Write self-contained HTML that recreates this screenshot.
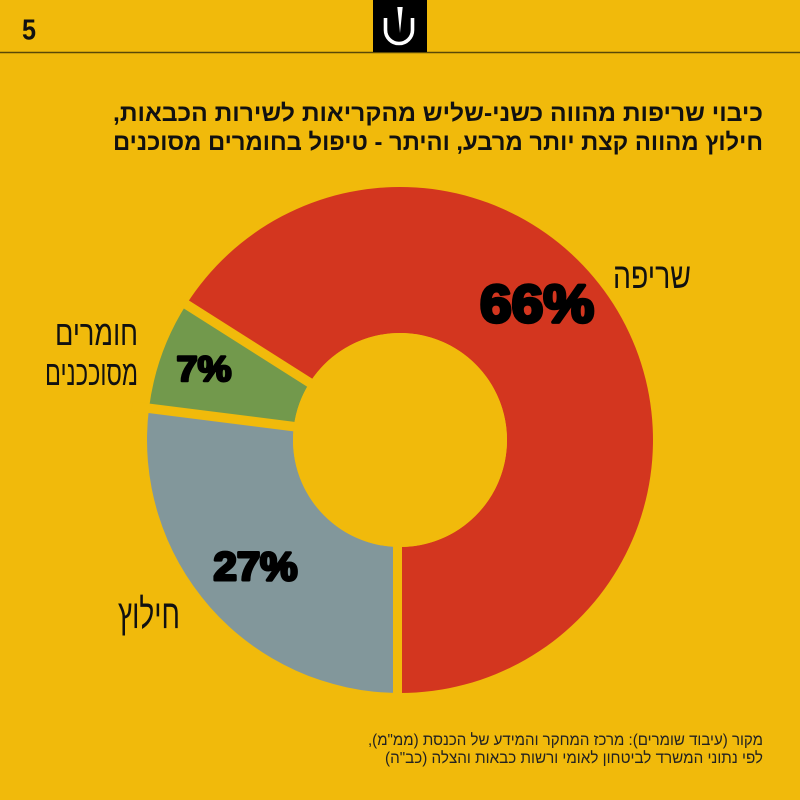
<!DOCTYPE html>
<html>
<head>
<meta charset="utf-8">
<style>
html,body{margin:0;padding:0;background:#F1BA0B;}
svg{display:block;}
</style>
</head>
<body>
<svg width="800" height="800" viewBox="0 0 800 800" xmlns="http://www.w3.org/2000/svg">
  <rect x="0" y="0" width="800" height="800" fill="#F1BA0B"/>
  <!-- header -->
  <line x1="0" y1="52.5" x2="800" y2="52.5" stroke="#5a4806" stroke-width="1.5"/>
  <text x="29" y="39.5" text-anchor="middle" font-family="Liberation Sans, sans-serif" font-weight="bold" font-size="29" fill="#111" textLength="14" lengthAdjust="spacingAndGlyphs">5</text>
  <rect x="373" y="0" width="54" height="52" fill="#000"/>
  <path d="M385.5,18 V30 A13.5,13.5 0 0 0 412.5,30 V18" fill="none" stroke="#fff" stroke-width="3.6"/>
  <polygon points="397.3,7 402.7,7 400,33" fill="#fff"/>

  <!-- title -->
  <text x="438" y="121" text-anchor="middle" direction="rtl" font-family="Liberation Sans, 'Noto Sans CJK SC', sans-serif" font-weight="bold" font-size="24" fill="#111" textLength="650" lengthAdjust="spacingAndGlyphs">כיבוי שריפות מהווה כשני-שליש מהקריאות לשירות הכבאות,</text>
  <text x="438" y="150" text-anchor="middle" direction="rtl" font-family="Liberation Sans, 'Noto Sans CJK SC', sans-serif" font-weight="bold" font-size="24" fill="#111" textLength="650" lengthAdjust="spacingAndGlyphs">חילוץ מהווה קצת יותר מרבע, והיתר - טיפול בחומרים מסוכנים</text>

  <!-- donut -->
  <path d="M186.38,304.43 A253,253 0 1 1 400,693 L400,547 A107,107 0 1 0 309.66,382.67 Z" fill="#D3361F"/>
  <path d="M400,693 A253,253 0 0 1 149.0,408.3 L293.84,426.59 A107,107 0 0 0 400,547 Z" fill="#82979B"/>
  <path d="M149.0,408.3 A253,253 0 0 1 186.38,304.43 L309.66,382.67 A107,107 0 0 0 293.84,426.59 Z" fill="#72994C"/>
  <!-- gaps -->
  <rect x="393" y="530" width="9" height="175" fill="#F1BA0B"/>
  <line x1="400" y1="440" x2="132.1" y2="406.2" stroke="#F1BA0B" stroke-width="9.5"/>
  <line x1="400" y1="440" x2="172.03" y2="295.33" stroke="#F1BA0B" stroke-width="9.5"/>
  <circle cx="400" cy="440" r="107" fill="#F1BA0B"/>

  <!-- percentages -->
  <text x="537" y="322" text-anchor="middle" font-family="Liberation Sans, sans-serif" font-weight="bold" font-size="53" fill="#000" stroke="#000" stroke-width="3.5" stroke-linejoin="round" textLength="114" lengthAdjust="spacingAndGlyphs">66%</text>
  <text x="204" y="381" text-anchor="middle" font-family="Liberation Sans, sans-serif" font-weight="bold" font-size="35" fill="#000" stroke="#000" stroke-width="2.5" stroke-linejoin="round" textLength="55" lengthAdjust="spacingAndGlyphs">7%</text>
  <text x="255.5" y="580" text-anchor="middle" font-family="Liberation Sans, sans-serif" font-weight="bold" font-size="40" fill="#000" stroke="#000" stroke-width="3" stroke-linejoin="round" textLength="84" lengthAdjust="spacingAndGlyphs">27%</text>

  <!-- category labels -->
  <text x="652" y="288" text-anchor="middle" direction="rtl" font-family="Liberation Sans, sans-serif" font-size="36" fill="#111" textLength="78" lengthAdjust="spacingAndGlyphs">שריפה</text>
  <text x="96.5" y="345" text-anchor="middle" direction="rtl" font-family="Liberation Sans, sans-serif" font-size="35" fill="#111" textLength="83" lengthAdjust="spacingAndGlyphs">חומרים</text>
  <text x="91.5" y="385" text-anchor="middle" direction="rtl" font-family="Liberation Sans, sans-serif" font-size="35" fill="#111" textLength="93" lengthAdjust="spacingAndGlyphs">מסוככנים</text>
  <text x="149" y="628" text-anchor="middle" direction="rtl" font-family="Liberation Sans, sans-serif" font-size="41" fill="#111" textLength="62" lengthAdjust="spacingAndGlyphs">חילוץ</text>

  <!-- footer -->
  <text x="565.5" y="745" text-anchor="middle" direction="rtl" font-family="Liberation Sans, sans-serif" font-size="16" fill="#222" textLength="395" lengthAdjust="spacingAndGlyphs">מקור (עיבוד שומרים): מרכז המחקר והמידע של הכנסת (ממ"מ),</text>
  <text x="574" y="763" text-anchor="middle" direction="rtl" font-family="Liberation Sans, sans-serif" font-size="16" fill="#222" textLength="378" lengthAdjust="spacingAndGlyphs">לפי נתוני המשרד לביטחון לאומי ורשות כבאות והצלה (כב"ה)</text>
</svg>
</body>
</html>
